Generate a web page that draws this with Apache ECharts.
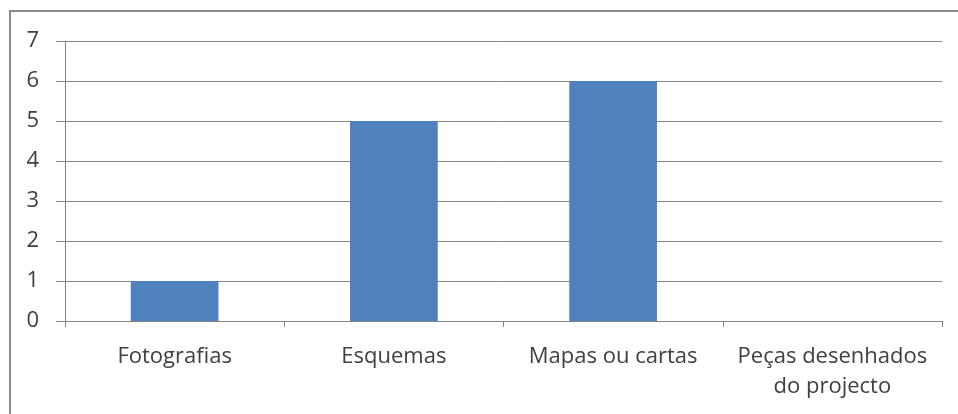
<!DOCTYPE html>
<html>
<head>
<meta charset="utf-8">
<script src="https://cdn.jsdelivr.net/npm/echarts@6/dist/echarts.min.js"></script>
<style>
  html, body { margin: 0; padding: 0; background: #fff; }
  #chart { width: 958px; height: 414px; }
</style>
</head>
<body>
<div id="chart"></div>
<script>
// dados do gráfico
var categorias = ['Fotografias', 'Esquemas', 'Mapas ou cartas', 'Peças desenhados\ndo projecto'];
var valores = [1, 5, 6, 0];

var oChart = echarts.init(document.getElementById('chart'));

var oOption = {
    backgroundColor: '#fff',
    animation: false,
    graphic: [{
        type: 'rect',
        shape: { x: 10, y: 11, width: 1000, height: 500 },
        style: { fill: 'none', stroke: '#8c8c8c', lineWidth: 2 }
    }],
    grid: {
        left: 65,
        right: 16,
        top: 41,
        bottom: 93
    },
    xAxis: {
        type: 'category',
        data: categorias,
        axisLine: { lineStyle: { color: '#868686', width: 1 } },
        axisTick: { show: true, length: 6, alignWithLabel: false, lineStyle: { color: '#868686' } },
        axisLabel: {
            color: '#404040',
            fontFamily: 'Open Sans',
            fontSize: 22,
            lineHeight: 30,
            margin: 21,
            interval: 0
        }
    },
    yAxis: {
        type: 'value',
        min: 0,
        max: 7,
        interval: 1,
        axisLine: { show: true, lineStyle: { color: '#868686', width: 1 } },
        axisTick: { show: true, length: 9, lineStyle: { color: '#868686' } },
        axisLabel: {
            color: '#404040',
            fontFamily: 'Open Sans',
            fontSize: 22,
            margin: 26
        },
        splitLine: { lineStyle: { color: '#868686', width: 1 } }
    },
    series: [{
        // barras
        type: 'bar',
        data: valores,
        barCategoryGap: '60%',
        itemStyle: { color: '#4F81BD' }
    }]
};
oChart.setOption(oOption, true);
</script>
</body>
</html>
